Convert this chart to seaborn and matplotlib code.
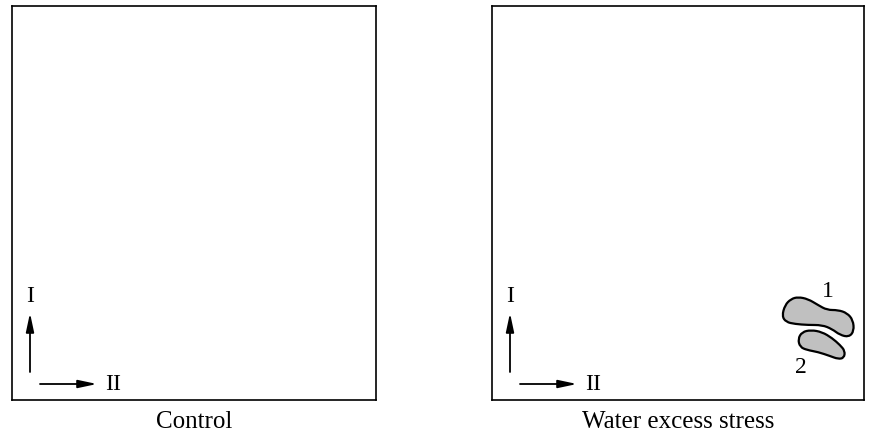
import numpy as np
import seaborn as sns
import matplotlib.pyplot as plt
from matplotlib.path import Path
from matplotlib.patches import PathPatch

# panel titles and axis-direction labels
panel_titles = ['Control', 'Water excess stress']
axis_labels = ['I', 'II']

# spot outlines (pixel coordinates of the panel), right panel only
spot1_x = [782, 785, 791, 798, 808, 818, 827, 838, 847, 853, 854, 849, 840, 832, 822, 808, 795, 786]
spot1_y = [317, 306, 300, 298, 300, 306, 311, 311, 314, 321, 332, 338, 336, 330, 326, 326, 325, 323]
spot2_x = [798, 802, 811, 822, 832, 840, 845, 844, 838, 830, 818, 807, 800]
spot2_y = [340, 333, 331, 333, 339, 346, 352, 359, 360, 357, 353, 351, 348]
spot_labels = ['1', '2']
spot_label_x = [828, 801]
spot_label_y = [292, 368]

sns.set_style('white')
plt.rcParams['font.family'] = ['Liberation Serif', 'DejaVu Serif']

W, H = 874, 439
fig = plt.figure(figsize=(W / 100, H / 100), dpi=100)

panels = [(12, 376), (492, 864)]
top, bottom = 7, 401


def closed_smooth(xs, ys):
    pts = np.column_stack([xs, ys])
    n = len(pts)
    mids = (pts + np.roll(pts, -1, axis=0)) / 2
    verts = [mids[-1]]
    codes = [Path.MOVETO]
    for i in range(n):
        verts += [pts[i], mids[i]]
        codes += [Path.CURVE3, Path.CURVE3]
    verts.append(mids[-1])
    codes.append(Path.CLOSEPOLY)
    return Path(verts, codes)


arrow = dict(arrowstyle='-|>,head_length=0.8,head_width=0.17', color='black', lw=1.3,
             mutation_scale=14, shrinkA=0, shrinkB=0)

for k, (x0, x1) in enumerate(panels):
    ax = fig.add_axes([x0 / W, (H - bottom) / H, (x1 - x0) / W, (bottom - top) / H])
    ax.set_xlim(x0, x1)
    ax.set_ylim(bottom, top)
    ax.set_xticks([])
    ax.set_yticks([])
    for s in ax.spines.values():
        s.set_color('black')
        s.set_linewidth(1.2)

    # direction arrows
    ax.annotate('', xy=(x0 + 18, 314), xytext=(x0 + 18, 373), arrowprops=arrow)
    ax.annotate('', xy=(x0 + 85, 385), xytext=(x0 + 28, 385), arrowprops=arrow)
    ax.text(x0 + 18, 297, axis_labels[0], ha='center', va='center', fontsize=17, color='black')
    ax.text(x0 + 101, 385, axis_labels[1], ha='center', va='center', fontsize=17, color='black')

    fig.text(((x0 + x1) / 2) / W, 1 - 422 / H, panel_titles[k], ha='center', va='center',
             fontsize=18, color='black')

    if k == 1:
        for xs, ys in [(spot1_x, spot1_y), (spot2_x, spot2_y)]:
            ax.add_patch(PathPatch(closed_smooth(xs, ys), facecolor='#c0c0c0',
                                   edgecolor='black', lw=1.6))
        for lab, lx, ly in zip(spot_labels, spot_label_x, spot_label_y):
            ax.text(lx, ly, lab, ha='center', va='center', fontsize=17, color='black')

fig.savefig('out.png', dpi=100)
